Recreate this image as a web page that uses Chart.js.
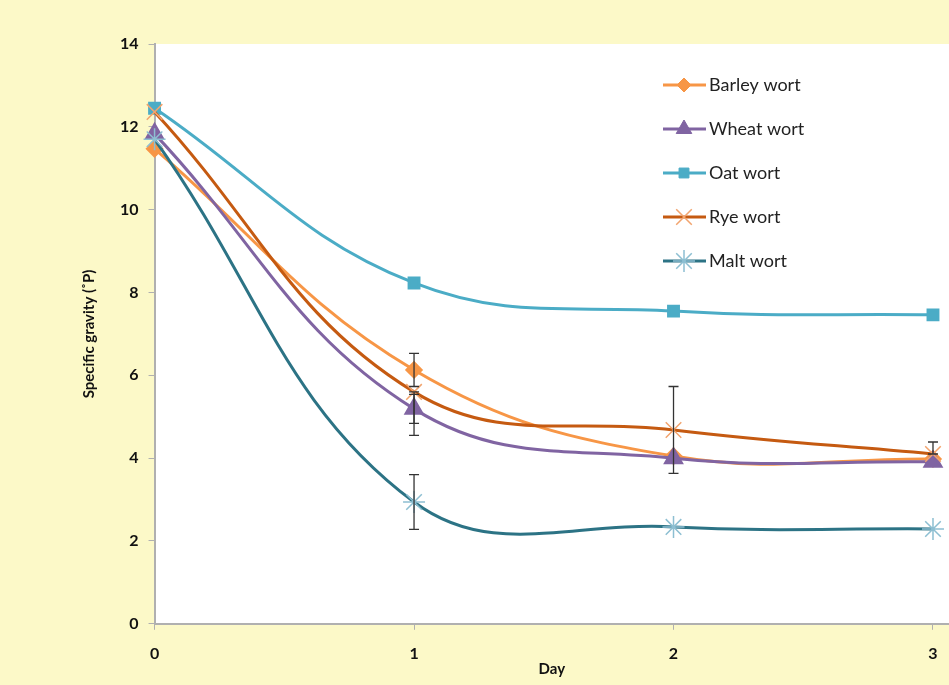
<!DOCTYPE html>
<html lang="en">
<head>
<meta charset="UTF-8">
<script src="https://cdn.jsdelivr.net/npm/chart.js"></script>
<title>Specific gravity</title>
<style>
  html, body { margin: 0; padding: 0; background: #FCF9C8; }
  #wrap { width: 949px; height: 685px; }
</style>
</head>
<body>
<div id="wrap"><canvas id="myChart" width="949" height="685"></canvas></div>
<script>
const days = [0, 1, 2, 3];
const seriesNames = ['Barley wort', 'Wheat wort', 'Oat wort', 'Rye wort', 'Malt wort'];
const barley = [11.47, 6.13, 4.05, 3.98];
const wheat  = [11.83, 5.19, 4.00, 3.91];
const oat    = [12.45, 8.23, 7.55, 7.46];
const rye    = [12.36, 5.60, 4.68, 4.10];
const malt   = [11.70, 2.94, 2.34, 2.29];
// error bars: [low, high] per day, null = none shown
const barleyErr = [null, [5.73, 6.53], null, null];
const wheatErr  = [null, [4.84, 5.54], null, null];
const ryeErr    = [null, [4.55, 5.60], [3.63, 5.73], [4.10, 4.39]];
const maltErr   = [null, [2.28, 3.60], null, null];
const yTicks = [0, 2, 4, 6, 8, 10, 12, 14];

function pts(vals) { return vals.map((v, i) => ({x: days[i], y: v})); }

const ctx = document.getElementById('myChart').getContext('2d');

const bgPlugin = {
  id: 'bg',
  beforeDraw(chart) {
    const c = chart.ctx, a = chart.chartArea;
    c.save();
    c.fillStyle = '#FCF9C8';
    c.fillRect(0, 0, chart.width, chart.height);
    c.fillStyle = '#FFFFFF';
    c.fillRect(a.left, a.top, chart.width - a.left, a.bottom - a.top);
    c.restore();
  }
};

const errPlugin = {
  id: 'errbars',
  afterDatasetsDraw(chart) {
    const c = chart.ctx, xs = chart.scales.x, ys = chart.scales.y;
    c.save();
    c.strokeStyle = '#333333';
    c.lineWidth = 1.3;
    chart.data.datasets.forEach(ds => {
      if (!ds.err) return;
      ds.err.forEach((e, i) => {
        if (!e) return;
        const x = xs.getPixelForValue(days[i]);
        const y1 = ys.getPixelForValue(e[0]), y2 = ys.getPixelForValue(e[1]);
        c.beginPath();
        c.moveTo(x, y1); c.lineTo(x, y2);
        c.moveTo(x - 5, y1); c.lineTo(x + 5, y1);
        c.moveTo(x - 5, y2); c.lineTo(x + 5, y2);
        c.stroke();
      });
    });
    c.restore();
  }
};

const legendPlugin = {
  id: 'customLegend',
  afterDraw(chart) {
    const c = chart.ctx;
    c.save();
    chart.data.datasets.forEach((ds, i) => {
      const y = 85 + i * 44;
      c.strokeStyle = ds.borderColor;
      c.lineWidth = 3;
      c.beginPath();
      c.moveTo(663, y); c.lineTo(706, y);
      c.stroke();
      const opts = {pointStyle: ds.pointStyle, radius: ds.pointRadius, borderWidth: ds.pointBorderWidth || 1, rotation: 0};
      c.fillStyle = ds.pointBackgroundColor;
      c.strokeStyle = ds.pointBorderColor;
      c.lineWidth = opts.borderWidth;
      if (Chart.helpers && Chart.helpers.drawPoint) {
        Chart.helpers.drawPoint(c, opts, 684, y);
      }
      c.fillStyle = '#222222';
      c.font = '18px Lato, "Open Sans", sans-serif';
      c.textBaseline = 'middle';
      c.fillText(ds.label, 709, y);
    });
    c.restore();
  }
};

const common = {fill: false, borderWidth: 3, tension: 0.4, clip: false};

new Chart(ctx, {
  type: 'line',
  data: {
    datasets: [
      Object.assign({label: seriesNames[0], data: pts(barley), err: barleyErr, order: 5,
        borderColor: '#F79646', pointStyle: 'rectRot', pointRadius: 7,
        pointBackgroundColor: '#F79646', pointBorderColor: '#F79646'}, common),
      Object.assign({label: seriesNames[1], data: pts(wheat), err: wheatErr, order: 4,
        borderColor: '#8064A2', pointStyle: 'triangle', pointRadius: 9,
        pointBackgroundColor: '#8064A2', pointBorderColor: '#8064A2'}, common),
      Object.assign({label: seriesNames[2], data: pts(oat), order: 3,
        borderColor: '#4BACC6', pointStyle: 'rect', pointRadius: 7,
        pointBackgroundColor: '#4BACC6', pointBorderColor: '#4BACC6'}, common),
      Object.assign({label: seriesNames[3], data: pts(rye), err: ryeErr, order: 2,
        borderColor: '#C55A11', pointStyle: 'crossRot', pointRadius: 11, pointBorderWidth: 1.5,
        pointBackgroundColor: '#F4B183', pointBorderColor: '#F2A46E'}, common),
      Object.assign({label: seriesNames[4], data: pts(malt), err: maltErr, order: 1,
        borderColor: '#2C7385', pointStyle: 'star', pointRadius: 11, pointBorderWidth: 1.5,
        pointBackgroundColor: '#8DBFD2', pointBorderColor: '#8DBFD2'}, common)
    ]
  },
  options: {
    responsive: false,
    animation: false,
    layout: {autoPadding: false, padding: {left: 80, right: 0, top: 44, bottom: 7}},
    plugins: {legend: {display: false}, tooltip: {enabled: false}},
    scales: {
      x: {
        type: 'linear', min: 0, max: 3 * (949 - 155) / (933 - 155),
        afterBuildTicks(axis) { axis.ticks = days.map(v => ({value: v})); },
        afterFit(axis) { axis.paddingRight = 0; },
        grid: {drawOnChartArea: false, drawTicks: true, tickLength: 6, color: '#B0B0B0'},
        border: {color: '#B0B0B0', width: 2},
        ticks: {color: '#111', font: {family: 'Lato, "Open Sans", sans-serif', size: 16, weight: 'bold'}, padding: 14},
        title: {display: true, text: 'Day', color: '#111', padding: {top: -17, bottom: 0},
          font: {family: 'Lato, "Open Sans", sans-serif', size: 15, weight: 'bold'}}
      },
      y: {
        min: 0, max: 14,
        afterBuildTicks(axis) { axis.ticks = yTicks.map(v => ({value: v})); },
        grid: {drawOnChartArea: false, drawTicks: true, tickLength: 6, color: '#B0B0B0'},
        border: {color: '#B0B0B0', width: 2},
        ticks: {color: '#111', font: {family: 'Lato, "Open Sans", sans-serif', size: 16, weight: 'bold'}, padding: 10},
        title: {display: true, text: 'Specific gravity (˚P)', color: '#111', padding: {top: 0, bottom: 12},
          font: {family: 'Lato, "Open Sans", sans-serif', size: 15, weight: 'bold'}}
      }
    }
  },
  plugins: [bgPlugin, errPlugin, legendPlugin]
});
</script>
</body>
</html>
